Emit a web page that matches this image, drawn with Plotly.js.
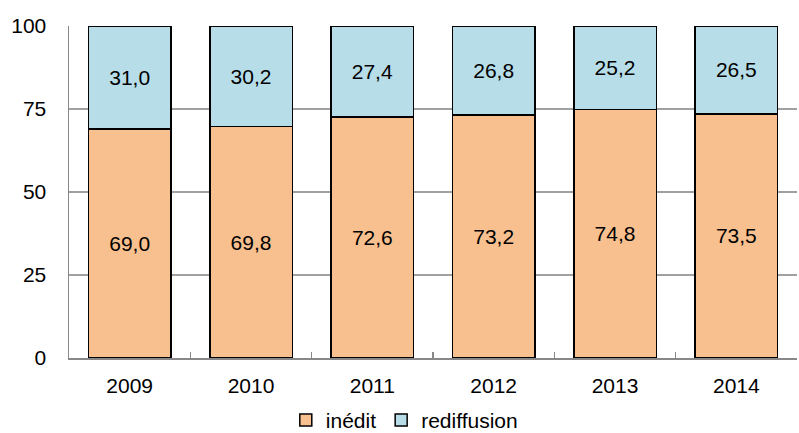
<!DOCTYPE html>
<html>
<head>
<meta charset="utf-8">
<script src="https://cdn.plot.ly/plotly-3.0.1.min.js"></script>
<style>html,body{margin:0;padding:0;background:#fff;}#chart{width:799px;height:433px;}</style>
</head>
<body>
<div id="chart"></div>
<script>
const years = ['2009', '2010', '2011', '2012', '2013', '2014'];
const inedit = [69.0, 69.8, 72.6, 73.2, 74.8, 73.5];
const rediffusion = [31.0, 30.2, 27.4, 26.8, 25.2, 26.5];
const yTicks = [0, 25, 50, 75, 100];

const fmt = v => v.toFixed(1).replace('.', ',');
const font = {family: 'Liberation Sans, Arial, sans-serif', size: 21, color: '#000'};

const traces = [
  {type: 'bar', name: 'inédit', x: years, y: inedit, text: inedit.map(fmt),
   textposition: 'inside', insidetextanchor: 'middle', textfont: font,
   marker: {color: '#F9C08F', line: {color: '#000', width: 1.5}}, hoverinfo: 'skip'},
  {type: 'bar', name: 'rediffusion', x: years, y: rediffusion, text: rediffusion.map(fmt),
   textposition: 'inside', insidetextanchor: 'middle', textfont: font,
   marker: {color: '#B7DDE8', line: {color: '#000', width: 1.5}}, hoverinfo: 'skip'}
];

const layout = {
  width: 799, height: 433,
  margin: {l: 69, r: 2, t: 26, b: 75, autoexpand: false},
  barmode: 'stack', bargap: 0.32,
  paper_bgcolor: '#fff', plot_bgcolor: '#fff',
  font: font,
  xaxis: {type: 'category', showline: true, linecolor: '#888', linewidth: 1.5,
          ticks: 'inside', tickson: 'boundaries', ticklen: 6, tickcolor: '#888', tickwidth: 1.5,
          tickfont: font, showgrid: false, ticklabelstandoff: 8, automargin: false},
  yaxis: {range: [0, 100], tickvals: yTicks, ticktext: yTicks.map(String),
          showline: true, linecolor: '#888', linewidth: 1.5,
          showgrid: true, gridcolor: '#a0a0a0', gridwidth: 1.5,
          ticks: '', tickfont: font, zeroline: false, ticklabelstandoff: 17, automargin: false},
  legend: {orientation: 'h', xref: 'container', x: 0.506, xanchor: 'center',
           yref: 'paper', y: -0.188, yanchor: 'middle',
           font: font, traceorder: 'normal', itemwidth: 30},
  showlegend: true
};

Plotly.newPlot('chart', traces, layout, {displayModeBar: false, staticPlot: true});
</script>
</body>
</html>
